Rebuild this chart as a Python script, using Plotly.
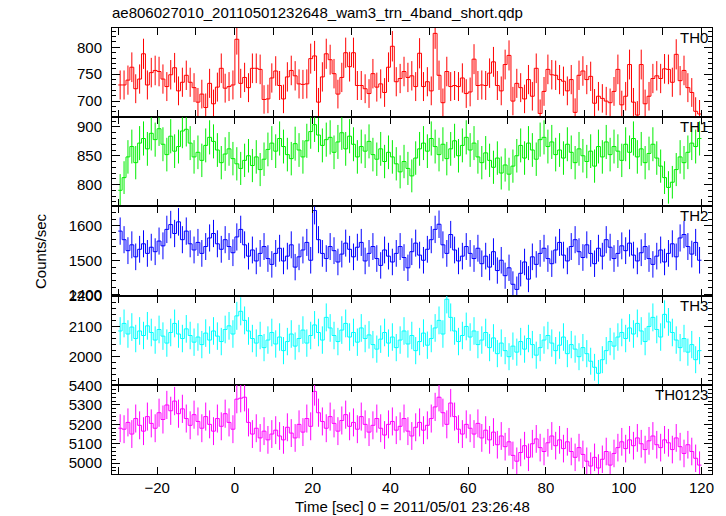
import numpy as np
import plotly.graph_objects as go
from plotly.subplots import make_subplots

# ---------------- data ----------------
t_start = -30  # first bin left edge (sec), 1-sec bins
bin_width = 1.0

th0 = [730, 730, 739, 763, 723, 741, 788, 730, 753, 757,
       755, 741, 727, 749, 762, 719, 735, 748, 735, 725,
       698, 713, 688, 733, 695, 726, 761, 724, 727, 730,
       815, 733, 744, 725, 761, 761, 759, 703, 704, 743,
       756, 729, 704, 745, 757, 747, 732, 731, 732, 779,
       784, 698, 745, 788, 777, 751, 713, 744, 790, 764,
       790, 729, 729, 723, 714, 751, 726, 732, 716, 763,
       802, 736, 742, 755, 744, 747, 727, 789, 727, 736,
       719, 826, 748, 697, 755, 727, 729, 727, 743, 714,
       717, 778, 729, 730, 729, 752, 773, 729, 719, 768,
       785, 700, 733, 725, 704, 740, 709, 761, 677, 718,
       759, 749, 748, 740, 737, 719, 740, 679, 748, 756,
       740, 746, 696, 709, 705, 700, 697, 718, 759, 693,
       709, 768, 698, 674, 768, 695, 709, 742, 747, 742,
       760, 759, 735, 787, 738, 757, 725, 716, 681, 676]

th1 = [790, 812, 848, 866, 838, 872, 880, 862, 889, 878,
       897, 870, 852, 884, 858, 866, 893, 896, 872, 848,
       856, 842, 868, 882, 875, 860, 838, 853, 862, 845,
       836, 828, 842, 850, 833, 848, 826, 844, 861, 872,
       858, 880, 866, 852, 845, 871, 860, 848, 876, 892,
       904, 886, 868, 878, 882, 856, 874, 890, 862, 884,
       870, 848, 866, 858, 875, 852, 844, 862, 840, 856,
       848, 836, 822, 840, 828, 815, 846, 862, 872, 858,
       880, 866, 852, 870, 845, 862, 876, 850, 868, 882,
       860, 872, 848, 838, 855, 842, 830, 846, 820, 834,
       818, 832, 850, 868, 846, 872, 860, 844, 878, 882,
       866, 874, 852, 860, 846, 870, 856, 838, 862, 850,
       840, 858, 832, 866, 848, 874, 852, 866, 858, 842,
       870, 856, 880, 848, 862, 838, 854, 870, 846, 832,
       812, 795, 804, 826, 848, 838, 856, 872, 866, 880]

th2 = [1585, 1560, 1528, 1545, 1510, 1532, 1548, 1520, 1538, 1525,
       1556, 1542, 1590, 1604, 1578, 1612, 1560, 1585, 1548, 1530,
       1552, 1520, 1540, 1565, 1578, 1548, 1532, 1560, 1540, 1522,
       1568, 1590, 1545, 1512, 1530, 1498, 1520, 1540, 1505, 1488,
       1520, 1535, 1498, 1512, 1545, 1480, 1510, 1530, 1552, 1500,
       1645, 1560, 1520, 1505, 1540, 1528, 1495, 1518, 1550, 1532,
       1510, 1538, 1552, 1498, 1520, 1540, 1505, 1485, 1530, 1512,
       1495, 1520, 1540, 1508, 1478, 1525, 1550, 1515, 1500, 1532,
       1560, 1590, 1605, 1545, 1520, 1575, 1530, 1498, 1512, 1540,
       1520, 1505, 1535, 1490, 1512, 1480, 1525, 1470, 1500, 1455,
       1478, 1430, 1415, 1462, 1495, 1445, 1510, 1488, 1520, 1535,
       1505, 1490, 1530, 1552, 1515, 1498, 1540, 1560, 1525, 1508,
       1545, 1520, 1490, 1535, 1512, 1560, 1538, 1505, 1520, 1542,
       1528, 1550, 1515, 1498, 1522, 1540, 1505, 1488, 1512, 1530,
       1495, 1520, 1548, 1510, 1565, 1575, 1540, 1518, 1552, 1500]

th3 = [2085, 2110, 2075, 2098, 2060, 2085, 2070, 2102, 2080, 2055,
       2090, 2068, 2045, 2080, 2110, 2075, 2060, 2092, 2070, 2048,
       2065, 2040, 2078, 2055, 2085, 2068, 2050, 2090, 2102, 2075,
       2135, 2150, 2120, 2085, 2060, 2045, 2070, 2030, 2055, 2080,
       2042, 2065, 2020, 2050, 2075, 2035, 2060, 2088, 2045, 2070,
       2105, 2080, 2055, 2130, 2095, 2070, 2050, 2088, 2110, 2065,
       2080, 2048, 2095, 2060, 2072, 2040, 2025, 2058, 2080, 2045,
       2065, 2030, 2055, 2085, 2042, 2070, 2020, 2050, 2078, 2038,
       2060, 2095, 2120, 2075, 2190, 2130, 2085, 2050, 2070, 2100,
       2065, 2085, 2040, 2055, 2080, 2030, 2062, 2010, 2045, 2020,
       2000, 2035, 2015, 2050, 2025, 2060, 2040, 2005, 2030, 2055,
       2070, 2045, 2020, 2038, 2065, 2010, 2040, 2025, 2000, 2030,
       2010, 1985, 1965, 1945, 1990, 2020, 2050, 2035, 2065, 2080,
       2060, 2095, 2075, 2110, 2085, 2050, 2100, 2130, 2090, 2065,
       2140, 2115, 2080, 2055, 2030, 2060, 2015, 2040, 1990, 2020]

th0123 = [5180, 5175, 5210, 5150, 5230, 5195, 5165, 5240, 5205, 5180,
          5260, 5225, 5300, 5270, 5320, 5255, 5280, 5230, 5195, 5250,
          5215, 5180, 5240, 5200, 5165, 5230, 5190, 5255, 5210, 5175,
          5330, 5335, 5340, 5210, 5150, 5180, 5130, 5165, 5120, 5150,
          5170, 5140, 5120, 5185, 5155, 5130, 5200, 5160, 5230, 5190,
          5370, 5260, 5215, 5180, 5240, 5205, 5165, 5220, 5250, 5190,
          5210, 5175, 5240, 5200, 5160, 5195, 5230, 5180, 5145, 5200,
          5215, 5170, 5190, 5230, 5165, 5140, 5185, 5210, 5170, 5195,
          5230, 5290, 5340, 5260, 5200, 5310, 5240, 5175, 5150, 5200,
          5180, 5150, 5205, 5130, 5170, 5120, 5160, 5095, 5140, 5085,
          5110, 5040, 5010, 5055, 5090, 5030, 5100, 5125, 5080, 5060,
          5105, 5140, 5090, 5120, 5075, 5110, 5060, 5030, 5080, 5045,
          5010, 4985, 5030, 4975, 5020, 5060, 4990, 5050, 5080, 5110,
          5075, 5120, 5090, 5130, 5100, 5070, 5115, 5140, 5095, 5080,
          5120, 5105, 5070, 5130, 5085, 5050, 5095, 5060, 5025, 4990]

panel_names = ["TH0", "TH1", "TH2", "TH3", "TH0123"]
panel_data = [th0, th1, th2, th3, th0123]
panel_colors = ["#ff0000", "#00ee00", "#0000ff", "#00ffff", "#ff00ff"]
y_ranges = [[670, 836], [762, 917], [1397, 1657], [1907, 2202], [4944, 5404]]
y_dticks = [50, 50, 100, 100, 100]
y_minor = [10, 10, 20, 20, 20]

x_tickvals = list(range(-30, 121, 10))
x_ticktext = [(str(v).replace("-", "\u2212") if v % 20 == 0 else "") for v in x_tickvals]

title_text = "ae806027010_20110501232648_wam3_trn_4band_short.qdp"
x_title = "Time [sec] 0 = 2011/05/01 23:26:48"
y_title = "Counts/sec"

# ---------------- figure ----------------
FONT = "Liberation Sans, Arial, Helvetica, sans-serif"
W, H = 726, 516
fig = make_subplots(rows=5, cols=1, shared_xaxes=True, vertical_spacing=0)

for i, (vals, col) in enumerate(zip(panel_data, panel_colors)):
    row = i + 1
    v = np.array(vals, dtype=float)
    n = len(v)
    edges = t_start + bin_width * np.arange(n + 1)
    centers = t_start + bin_width * (np.arange(n) + 0.5)
    err = np.sqrt(v / bin_width)
    fig.add_trace(go.Scatter(x=edges, y=np.append(v, v[-1]), mode="lines",
                             line=dict(color=col, width=1.0, shape="hv"),
                             showlegend=False, hoverinfo="skip"), row=row, col=1)
    fig.add_trace(go.Scatter(x=centers, y=v, mode="markers",
                             marker=dict(size=0.1, color=col),
                             error_y=dict(type="data", array=err, visible=True,
                                          color=col, thickness=1.0, width=0),
                             showlegend=False), row=row, col=1)

# plot area in page pixels (page has ~8px body margin)
left_px, right_px, top_px, bot_px = 104, 704, 18, 466
panel_h = (bot_px - top_px) / 5.0
plot_h = bot_px - top_px

for i in range(5):
    row = i + 1
    y_top = 1 - (i * panel_h) / plot_h
    y_bot = 1 - ((i + 1) * panel_h) / plot_h
    ax = dict(domain=[max(0, y_bot), min(1, y_top)], range=y_ranges[i],
              dtick=y_dticks[i], tick0=0, ticks="inside", ticklen=8,
              tickcolor="black", tickwidth=1, showline=True, linecolor="black",
              linewidth=1, mirror="ticks", showgrid=False, zeroline=False,
              tickfont=dict(family=FONT, size=15, color="black"),
              ticklabelstandoff=6,
              minor=dict(dtick=y_minor[i], tick0=0, ticks="inside", ticklen=4,
                         tickcolor="black", showgrid=False))
    fig.update_yaxes(**ax, row=row, col=1)
    fig.update_xaxes(range=[-31.6, 122.7], tickmode="array", tickvals=x_tickvals,
                     ticktext=x_ticktext, ticks="inside", ticklen=7,
                     tickcolor="black", showline=True, linecolor="black",
                     linewidth=1, mirror="ticks", showgrid=False, zeroline=False,
                     showticklabels=(row == 5),
                     tickfont=dict(family=FONT, size=15, color="black"),
                     row=row, col=1)
    fig.add_annotation(text=panel_names[i], xref="x domain",
                       yref="y domain" if row == 1 else f"y{row} domain",
                       x=1, y=1, xanchor="right", yanchor="top", xshift=-2, yshift=1,
                       showarrow=False, font=dict(family=FONT, size=15, color="black"),
                       row=row, col=1)

fig.add_annotation(text=y_title, xref="paper", yref="paper", x=0, y=0.5,
                   xanchor="center", yanchor="middle", xshift=-72, textangle=-90,
                   showarrow=False, font=dict(family=FONT, size=15, color="black"))
fig.add_annotation(text=x_title, xref="paper", yref="paper", x=0.5, y=0,
                   xanchor="center", yanchor="middle", yshift=-32,
                   showarrow=False, font=dict(family=FONT, size=15, color="black"))

fig.update_layout(
    width=W, height=H,
    margin=dict(l=left_px, r=W - right_px, t=top_px, b=H - bot_px),
    paper_bgcolor="white", plot_bgcolor="white",
    showlegend=False,
    title=dict(text=title_text, xref="paper", x=0, xanchor="left",
               yref="container", y=1 - 5 / H, yanchor="middle",
               font=dict(family=FONT, size=15, color="black")),
)

fig.write_html("out.html")
